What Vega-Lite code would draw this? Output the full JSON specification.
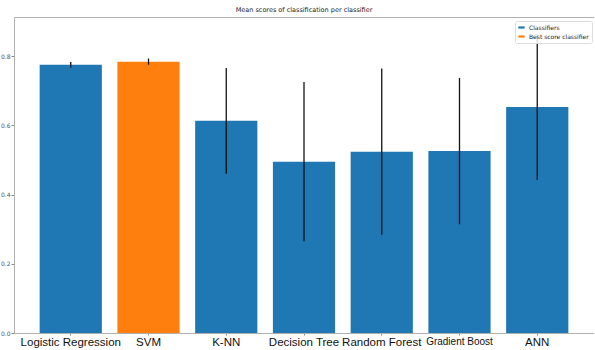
{
  "$schema": "https://vega.github.io/schema/vega-lite/v6.json",
  "autosize": "none",
  "padding": {"left": 14, "top": 17, "right": 0, "bottom": 15},
  "width": 580,
  "height": 316,
  "background": "white",
  "title": {"text": "Mean scores of classification per classifier", "font": "DejaVu Sans", "fontSize": 6.5, "fontWeight": "normal", "color": "#222", "offset": 4, "anchor": "middle"},
  "config": {"view": {"stroke": null}},
  "data": {"values": [
    {"classifier": "Logistic Regression", "score": 0.775, "lo": 0.767, "hi": 0.783, "type": "Classifiers"},
    {"classifier": "SVM", "score": 0.784, "lo": 0.775, "hi": 0.793, "type": "Best score classifier"},
    {"classifier": "K-NN", "score": 0.613, "lo": 0.46, "hi": 0.766, "type": "Classifiers"},
    {"classifier": "Decision Tree", "score": 0.495, "lo": 0.265, "hi": 0.725, "type": "Classifiers"},
    {"classifier": "Random Forest", "score": 0.524, "lo": 0.284, "hi": 0.764, "type": "Classifiers"},
    {"classifier": "Gradient Boost", "score": 0.526, "lo": 0.314, "hi": 0.737, "type": "Classifiers"},
    {"classifier": "ANN", "score": 0.653, "lo": 0.442, "hi": 0.864, "type": "Classifiers"}
  ]},
  "resolve": {"axis": {"x": "independent"}},
  "layer": [
    {
      "mark": {"type": "bar"},
      "encoding": {
        "x": {"field": "classifier", "type": "nominal", "sort": null,
          "scale": {"paddingInner": 0.2, "paddingOuter": 0.33},
          "axis": {"title": null, "orient": "bottom", "labelAngle": 0, "domain": true, "domainColor": "#b0b0b0", "tickSize": 2, "tickColor": "#888", "labelPadding": 1,
            "labelFont": "Liberation Sans", "labelColor": "#111",
            "labelFontSize": {"condition": {"test": "datum.label == 'Gradient Boost'", "value": 10}, "value": 11.5}}},
        "y": {"field": "score", "type": "quantitative", "scale": {"domain": [0, 0.913], "nice": false, "zero": true},
          "axis": {"title": null, "values": [0, 0.2, 0.4, 0.6, 0.8], "format": ".1f", "grid": false, "domain": true, "domainColor": "#b0b0b0",
            "tickSize": 3, "tickColor": "#888", "labelFontSize": 6, "labelColor": "#555", "labelFont": "DejaVu Sans", "labelPadding": 1}},
        "color": {"field": "type", "type": "nominal",
          "scale": {"domain": ["Classifiers", "Best score classifier"], "range": ["#1f77b4", "#ff7f0e"]},
          "legend": {"title": null, "orient": "none", "legendX": 501, "legendY": 4,
            "symbolType": "M-1,-0.35H1V0.35H-1Z", "symbolSize": 40, "symbolStrokeWidth": 0,
            "labelFont": "DejaVu Sans", "labelFontSize": 6, "labelColor": "#222",
            "fillColor": "rgba(255,255,255,0.85)", "strokeColor": "#ddd", "padding": 3, "cornerRadius": 2,
            "rowPadding": 2, "labelOffset": 4}}
      }
    },
    {
      "mark": {"type": "rule", "color": "#111", "strokeWidth": 1.3},
      "encoding": {
        "x": {"field": "classifier", "type": "nominal", "sort": null,
          "axis": {"title": null, "orient": "top", "domain": true, "domainColor": "#b0b0b0", "ticks": false, "labels": false}},
        "y": {"field": "lo", "type": "quantitative"},
        "y2": {"field": "hi"}
      }
    }
  ]
}
